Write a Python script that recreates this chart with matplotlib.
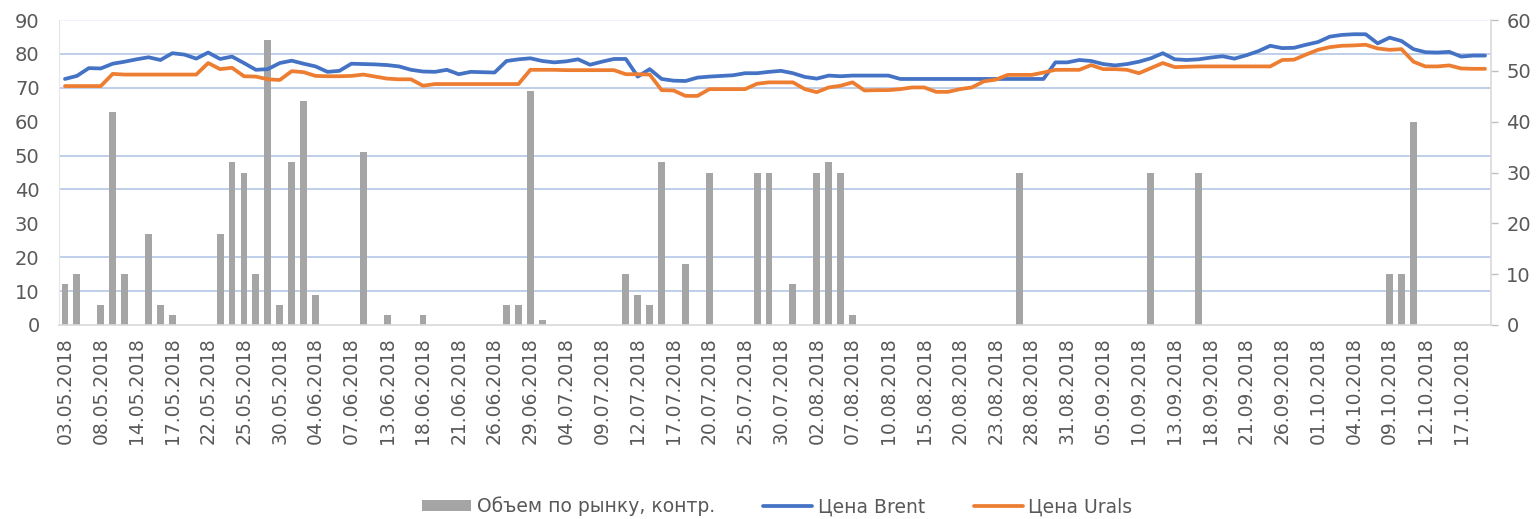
import matplotlib
matplotlib.use("Agg")
import matplotlib.pyplot as plt
import numpy as np
import pandas as pd

# trading days 03.05.2018 - 19.10.2018 (Moscow Exchange calendar)
dates = pd.bdate_range("2018-05-03", "2018-10-19")
dates = dates.drop(pd.to_datetime(["2018-05-09", "2018-06-11", "2018-06-12"]))
dates = dates.union(pd.to_datetime(["2018-06-09"]))
labels = dates.strftime("%d.%m.%Y")

# volume, contracts (right axis)
volume = [
    8, 10, 0, 4, 42, 10, 0, 18, 4, 2,
    0, 0, 0, 18, 32, 30, 10, 56, 4, 32,
    44, 6, 0, 0, 0, 34, 0, 2, 0, 0,
    2, 0, 0, 0, 0, 0, 0, 4, 4, 46,
    1, 0, 0, 0, 0, 0, 0, 10, 6, 4,
    32, 0, 12, 0, 30, 0, 0, 0, 30, 30,
    0, 8, 0, 30, 32, 30, 2, 0, 0, 0,
    0, 0, 0, 0, 0, 0, 0, 0, 0, 0,
    30, 0, 0, 0, 0, 0, 0, 0, 0, 0,
    0, 30, 0, 0, 0, 30, 0, 0, 0, 0,
    0, 0, 0, 0, 0, 0, 0, 0, 0, 0,
    0, 10, 10, 40, 0, 0, 0, 0, 0, 0,
]

# Brent price (left axis)
brent = [
    72.6, 73.5, 75.8, 75.7, 77.1, 77.7, 78.4, 79.0, 78.2, 80.2,
    79.8, 78.6, 80.4, 78.5, 79.2, 77.3, 75.3, 75.5, 77.3, 78.0,
    77.1, 76.3, 74.7, 75.0, 77.1, 77.0, 76.9, 76.7, 76.3, 75.3,
    74.8, 74.7, 75.3, 74.0, 74.7, 74.6, 74.5, 77.9, 78.4, 78.7,
    77.9, 77.5, 77.8, 78.4, 76.8, 77.7, 78.5, 78.5, 73.3, 75.5,
    72.6, 72.1, 72.0, 73.0, 73.3, 73.5, 73.7, 74.3, 74.3, 74.7,
    75.0, 74.3, 73.2, 72.7, 73.6, 73.4, 73.6, 73.6, 73.6, 73.6,
    72.6, 72.6, 72.6, 72.6, 72.6, 72.6, 72.6, 72.6, 72.6, 72.6,
    72.6, 72.6, 72.6, 77.5, 77.5, 78.2, 77.9, 77.0, 76.6, 77.0,
    77.7, 78.7, 80.2, 78.4, 78.2, 78.4, 78.9, 79.3, 78.6, 79.6,
    80.8, 82.4, 81.7, 81.8, 82.7, 83.5, 85.1, 85.6, 85.8, 85.8,
    83.1, 84.8, 83.8, 81.4, 80.5, 80.4, 80.6, 79.2, 79.5, 79.5,
]

# Urals price (left axis)
urals = [
    70.5, 70.5, 70.5, 70.5, 74.1, 73.9, 73.9, 73.9, 73.9, 73.9,
    73.9, 73.9, 77.3, 75.5, 75.9, 73.4, 73.3, 72.5, 72.3, 74.9,
    74.6, 73.5, 73.4, 73.4, 73.5, 73.9, 73.3, 72.7, 72.5, 72.5,
    70.6, 71.1, 71.1, 71.1, 71.1, 71.1, 71.1, 71.1, 71.1, 75.3,
    75.3, 75.3, 75.2, 75.2, 75.2, 75.2, 75.2, 74.0, 74.0, 73.9,
    69.3, 69.2, 67.6, 67.6, 69.6, 69.6, 69.6, 69.6, 71.2, 71.6,
    71.6, 71.6, 69.6, 68.7, 70.1, 70.6, 71.6, 69.2, 69.3, 69.3,
    69.6, 70.1, 70.1, 68.8, 68.8, 69.6, 70.1, 71.9, 72.4, 73.8,
    73.8, 73.8, 74.5, 75.3, 75.3, 75.3, 76.7, 75.5, 75.5, 75.3,
    74.3, 75.8, 77.3, 76.1, 76.2, 76.3, 76.3, 76.3, 76.3, 76.3,
    76.3, 76.3, 78.2, 78.3, 79.8, 81.2, 82.0, 82.4, 82.5, 82.7,
    81.6, 81.2, 81.4, 77.7, 76.3, 76.3, 76.6, 75.7, 75.6, 75.6,
]

assert len(dates) == len(volume) == len(brent) == len(urals)

txt = "#595959"
plt.rcParams["font.family"] = ["DejaVu Sans"]

fig = plt.figure(figsize=(15.39, 5.19), dpi=100)
ax_bar = fig.add_axes([59 / 1539, 1 - 325 / 519, (1491 - 59) / 1539, 305 / 519])
ax_line = ax_bar.twinx()
x = np.arange(len(dates))

# bars on the right-hand axis
ax_bar.bar(x, volume, width=0.58, color="#A5A5A5", label="Объем по рынку, контр.", zorder=2)
ax_bar.set_ylim(0, 60)
ax_bar.set_xlim(-0.5, len(dates) - 0.5)
ax_bar.yaxis.tick_right()
ax_bar.yaxis.set_label_position("right")
ax_bar.set_yticks(np.arange(0, 61, 10))
ax_bar.tick_params(axis="y", which="major", right=True, left=False, labelright=True,
                   labelleft=False, colors="#BFBFBF", labelcolor=txt, labelsize=14,
                   length=5, width=1, pad=6)
# gridlines follow the left axis (0..90 step 10)
ax_bar.set_yticks(np.linspace(0, 60, 10)[:-1], minor=True)
ax_bar.tick_params(axis="y", which="minor", length=0, labelleft=False, labelright=False)
ax_bar.grid(axis="y", which="minor", color="#B4C7E7", linewidth=1.2)
ax_bar.axhline(60, color="#EEF2FA", linewidth=1.2, zorder=0)
ax_bar.set_axisbelow(True)

ax_bar.set_xticks(x[::3])
ax_bar.set_xticklabels(labels[::3], rotation=90, fontsize=13.5, color=txt)
ax_bar.tick_params(axis="x", length=0, pad=9)

ax_bar.spines["top"].set_visible(False)
ax_bar.spines["bottom"].set_color("#D9D9D9")
ax_bar.spines["bottom"].set_linewidth(1.2)
ax_bar.spines["right"].set_color("#D9D9D9")
ax_bar.spines["right"].set_linewidth(1.2)
ax_bar.spines["left"].set_color("#E7E6E6")

# price lines on the left-hand axis
ax_line.plot(x, brent, color="#4472C4", linewidth=2.7, label="Цена Brent", solid_capstyle="round")
ax_line.plot(x, urals, color="#ED7D31", linewidth=2.7, label="Цена Urals", solid_capstyle="round")
ax_line.set_ylim(0, 90)
ax_line.yaxis.tick_left()
ax_line.yaxis.set_label_position("left")
ax_line.set_yticks(np.arange(0, 91, 10))
ax_line.tick_params(axis="y", left=False, right=False, labelleft=True, labelright=False,
                    length=0, labelcolor=txt, labelsize=14, pad=14)
for side in ["top", "right", "left", "bottom"]:
    ax_line.spines[side].set_visible(False)

h1, l1 = ax_bar.get_legend_handles_labels()
h2, l2 = ax_line.get_legend_handles_labels()
fig.legend(h1 + h2, l1 + l2, loc="center", bbox_to_anchor=(0.505, 0.024), ncol=3,
           frameon=False, fontsize=13.5, handlelength=2.6, handleheight=0.5,
           columnspacing=2.6, handletextpad=0.3, labelcolor=txt)

fig.savefig("out.png", dpi=100)
